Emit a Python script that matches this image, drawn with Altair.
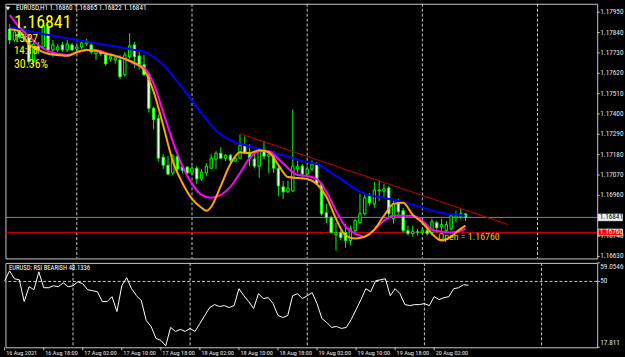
import altair as alt
import pandas as pd

# ---------------- data ----------------
bar_index = list(range(96))  # H1 bars, 16 Aug 10:00 ... 20 Aug 09:00
opens = [1.17859, 1.17800, 1.17864, 1.17810, 1.17816, 1.17682, 1.17768, 1.17762, 1.17870, 1.17746,
         1.17746, 1.17773, 1.17746, 1.17773, 1.17751, 1.17762, 1.17778, 1.17773, 1.17725, 1.17735,
         1.17719, 1.17698, 1.17692, 1.17692, 1.17612, 1.17709, 1.17773, 1.17714, 1.17666, 1.17617,
         1.17430, 1.17376, 1.17166, 1.17123, 1.17081, 1.17172, 1.17113, 1.17113, 1.17081, 1.17107,
         1.17049, 1.17081, 1.17107, 1.17156, 1.17188, 1.17161, 1.17177, 1.17145, 1.17161, 1.17231,
         1.17193, 1.17156, 1.17118, 1.17209, 1.17172, 1.17172, 1.17107, 1.17006, 1.16979, 1.16984,
         1.17102, 1.17118, 1.17075, 1.17102, 1.17129, 1.17022, 1.16866, 1.16839, 1.16748, 1.16759,
         1.16759, 1.16716, 1.16769, 1.16812, 1.16861, 1.16957, 1.16914, 1.16984, 1.16984, 1.17000,
         1.16834, 1.16920, 1.16877, 1.16769, 1.16753, 1.16759, 1.16759, 1.16769, 1.16759, 1.16812,
         1.16791, 1.16769, 1.16780, 1.16839, 1.16845, 1.16860]
highs = [1.17886, 1.17859, 1.17896, 1.17875, 1.17827, 1.17800, 1.17789, 1.17907, 1.17886, 1.17800,
         1.17778, 1.17789, 1.17800, 1.17784, 1.17773, 1.17794, 1.17805, 1.17784, 1.17751, 1.17746,
         1.17735, 1.17725, 1.17719, 1.17719, 1.17735, 1.17837, 1.17789, 1.17735, 1.17719, 1.17628,
         1.17440, 1.17397, 1.17183, 1.17172, 1.17183, 1.17188, 1.17129, 1.17118, 1.17123, 1.17118,
         1.17102, 1.17134, 1.17183, 1.17199, 1.17220, 1.17183, 1.17183, 1.17172, 1.17290, 1.17279,
         1.17236, 1.17199, 1.17215, 1.17252, 1.17199, 1.17199, 1.17118, 1.17038, 1.17038, 1.17424,
         1.17145, 1.17129, 1.17118, 1.17150, 1.17140, 1.17027, 1.16914, 1.16850, 1.16812, 1.16769,
         1.16807, 1.16796, 1.16834, 1.16968, 1.16968, 1.16973, 1.17032, 1.17038, 1.17022, 1.17011,
         1.16930, 1.16941, 1.16893, 1.16796, 1.16796, 1.16780, 1.16786, 1.16791, 1.16834, 1.16823,
         1.16834, 1.16823, 1.16861, 1.16877, 1.16887, 1.16865]
lows = [1.17778, 1.17789, 1.17805, 1.17789, 1.17666, 1.17660, 1.17725, 1.17751, 1.17725, 1.17709,
        1.17735, 1.17735, 1.17735, 1.17741, 1.17741, 1.17751, 1.17768, 1.17725, 1.17692, 1.17714,
        1.17660, 1.17682, 1.17671, 1.17590, 1.17601, 1.17698, 1.17650, 1.17639, 1.17607, 1.17408,
        1.17317, 1.17145, 1.17102, 1.17070, 1.17070, 1.17091, 1.17081, 1.17075, 1.17070, 1.17022,
        1.17038, 1.17065, 1.17102, 1.17102, 1.17156, 1.17145, 1.17129, 1.17140, 1.17156, 1.17183,
        1.17118, 1.17107, 1.17054, 1.17156, 1.17081, 1.17081, 1.16957, 1.16941, 1.16973, 1.16979,
        1.17081, 1.17059, 1.17070, 1.17091, 1.17016, 1.16850, 1.16812, 1.16753, 1.16662, 1.16716,
        1.16678, 1.16689, 1.16759, 1.16807, 1.16850, 1.16904, 1.16893, 1.16930, 1.16947, 1.16834,
        1.16807, 1.16850, 1.16759, 1.16743, 1.16737, 1.16743, 1.16748, 1.16743, 1.16743, 1.16759,
        1.16769, 1.16759, 1.16769, 1.16812, 1.16834, 1.16822]
closes = [1.17800, 1.17843, 1.17816, 1.17853, 1.17682, 1.17778, 1.17746, 1.17880, 1.17746, 1.17773,
          1.17762, 1.17746, 1.17778, 1.17746, 1.17762, 1.17784, 1.17789, 1.17735, 1.17741, 1.17725,
          1.17671, 1.17709, 1.17703, 1.17601, 1.17719, 1.17768, 1.17709, 1.17666, 1.17612, 1.17430,
          1.17370, 1.17161, 1.17123, 1.17075, 1.17172, 1.17102, 1.17096, 1.17081, 1.17107, 1.17049,
          1.17086, 1.17118, 1.17161, 1.17188, 1.17161, 1.17177, 1.17150, 1.17161, 1.17231, 1.17188,
          1.17161, 1.17118, 1.17209, 1.17172, 1.17183, 1.17107, 1.17011, 1.16979, 1.17000, 1.17118,
          1.17118, 1.17075, 1.17102, 1.17129, 1.17022, 1.16861, 1.16839, 1.16759, 1.16759, 1.16732,
          1.16716, 1.16780, 1.16823, 1.16861, 1.16947, 1.16920, 1.16989, 1.16989, 1.16995, 1.16861,
          1.16914, 1.16871, 1.16769, 1.16753, 1.16764, 1.16764, 1.16769, 1.16753, 1.16818, 1.16786,
          1.16802, 1.16802, 1.16850, 1.16850, 1.16861, 1.16841]

rsi_values = [50.32, 55.17, 51.29, 50.81, 40.13, 47.41, 45.95, 54.69, 46.92, 46.92,
              47.89, 47.41, 49.35, 47.41, 47.89, 49.84, 48.86, 45.95, 45.47, 44.98,
              40.13, 40.13, 42.56, 35.28, 47.89, 51.78, 46.44, 43.04, 40.62, 30.91,
              28.00, 22.18, 21.21, 18.50, 27.52, 25.57, 26.55, 25.57, 27.03, 25.57,
              29.46, 33.34, 37.22, 38.67, 37.70, 38.19, 37.22, 38.19, 46.44, 43.04,
              40.13, 36.73, 44.01, 41.59, 42.07, 39.16, 33.34, 32.37, 33.34, 43.04,
              44.01, 41.59, 43.04, 44.50, 39.16, 31.88, 29.94, 27.52, 28.00, 27.03,
              27.52, 31.40, 36.25, 41.10, 46.44, 44.98, 50.32, 50.81, 51.29, 43.04,
              46.44, 44.01, 38.67, 38.19, 38.67, 38.67, 39.16, 38.19, 42.56, 41.10,
              42.07, 42.56, 46.44, 46.92, 48.38, 48.1336]

blue_idx = [0, 7, 14, 20, 25, 29, 32, 35, 38, 40, 43, 46, 49, 53, 57, 61, 65, 67, 69, 72,
            74, 78, 81, 84, 87, 90, 93, 95]
blue_ma = [1.17870, 1.17832, 1.17800, 1.17773, 1.17751, 1.17725, 1.17666, 1.17574, 1.17472, 1.17403,
           1.17311, 1.17258, 1.17231, 1.17204, 1.17177, 1.17145, 1.17118, 1.17081, 1.17049, 1.16995,
           1.16968, 1.16947, 1.16930, 1.16909, 1.16887, 1.16866, 1.16855, 1.16850]

magenta_idx = [0, 2, 4, 6, 8, 10, 12, 14, 16, 18, 20, 22, 24, 26, 28, 30, 32, 34, 36, 38,
               40, 42, 44, 46, 48, 50, 52, 54, 56, 58, 60, 62, 64, 66, 68, 70, 72, 74, 76, 78,
               80, 82, 84, 86, 88, 90, 92, 94, 95]
magenta_ma = [1.17934, 1.17870, 1.17821, 1.17773, 1.17741, 1.17725, 1.17719, 1.17730, 1.17746, 1.17746,
              1.17730, 1.17714, 1.17698, 1.17671, 1.17650, 1.17564, 1.17408, 1.17252, 1.17118, 1.17022,
              1.16963, 1.16947, 1.16963, 1.17006, 1.17081, 1.17161, 1.17199, 1.17199, 1.17156, 1.17108,
              1.17070, 1.17065, 1.17049, 1.16979, 1.16877, 1.16791, 1.16753, 1.16737, 1.16775, 1.16823,
              1.16850, 1.16850, 1.16850, 1.16823, 1.16775, 1.16764, 1.16759, 1.16770, 1.16780]

orange_idx = [0, 2, 4, 6, 8, 10, 12, 14, 16, 18, 20, 22, 24, 26, 28, 30, 32, 34, 36, 38,
              40, 41, 42, 44, 46, 48, 50, 52, 54, 56, 58, 60, 62, 64, 66, 68, 70, 72, 74, 76,
              78, 80, 82, 84, 86, 88, 90, 92, 94, 95]
orange_ma = [1.17858, 1.17848, 1.17778, 1.17746, 1.17725, 1.17719, 1.17714, 1.17735, 1.17746, 1.17741,
             1.17725, 1.17714, 1.17698, 1.17676, 1.17639, 1.17521, 1.17338, 1.17145, 1.17027, 1.16941,
             1.16893, 1.16877, 1.16898, 1.17011, 1.17129, 1.17193, 1.17188, 1.17204, 1.17193, 1.17124,
             1.17059, 1.17054, 1.17049, 1.17022, 1.16952, 1.16834, 1.16743, 1.16727, 1.16737, 1.16775,
             1.16850, 1.16914, 1.16920, 1.16855, 1.16812, 1.16753, 1.16716, 1.16737, 1.16780, 1.16796]

trend_idx = [48.1, 103.9]
trend_price = [1.17293, 1.16802]

separator_idx = [14, 38, 62, 86, 110]          # midnight of 17..21 Aug
time_tick_idx = [0, 8, 16, 24, 32, 40, 48, 56, 64, 72, 80, 88]
time_tick_labels = ["16 Aug 2021", "16 Aug 18:00", "17 Aug 02:00", "17 Aug 10:00",
                    "17 Aug 18:00", "18 Aug 02:00", "18 Aug 10:00", "18 Aug 18:00",
                    "19 Aug 02:00", "19 Aug 10:00", "19 Aug 18:00", "20 Aug 02:00"]
# 1.16850 is hidden behind the bid-price box in the reference
price_ticks = [1.16630, 1.16740, 1.16960, 1.17070, 1.17180, 1.17290,
               1.17400, 1.17510, 1.17620, 1.17730, 1.17840, 1.17950]
price_tick_labels = ["1.16630", "1.16740", "1.16960", "1.17070", "1.17180", "1.17290",
                     "1.17400", "1.17510", "1.17620", "1.17730", "1.17840", "1.17950"]
rsi_max, rsi_level, rsi_min = 59.0546, 50.0, 17.811
rsi_tick_labels = ["59.0546", "50", "17.811"]
bid_price = 1.16841
open_price = 1.16760
header = "EURUSD,H1  1.16860 1.16865 1.16822 1.16841"
rsi_header = "EURUSD: RSI BEARISH 48.1336"
info_lines = ["1.16841", "15:27", "14:18", "30.36%"]
open_label = "Open = 1.16760"

# ---------------- styling ----------------
NARROW = "Liberation Sans Narrow, Roboto Condensed, DejaVu Sans Condensed, Liberation Sans"
LIME = "#00FF00"
FRAME = "#C8C8C8"
LBL = "#E6E6E6"
W = 596
H_MAIN = 256.5
H_RSI = 85

xs = alt.Scale(domain=[0.163, 121.40], nice=False, zero=False)
ys = alt.Scale(domain=[1.166192, 1.179956], nice=False, zero=False)
rs = alt.Scale(domain=[rsi_min, rsi_max], nice=False, zero=False)

X = alt.X("i:Q", scale=xs, axis=None)


def Yp(field):
    return alt.Y(field, scale=ys, axis=None)


def Yr(field):
    return alt.Y(field, scale=rs, axis=None)


candles = pd.DataFrame(dict(i=bar_index, o=opens, h=highs, l=lows, c=closes))
seps = pd.DataFrame(dict(i=separator_idx))

sep_main = alt.Chart(seps).mark_rule(color="#C8C8C8", strokeDash=[3, 2], strokeWidth=1).encode(x=X)

hlines = alt.Chart(pd.DataFrame(dict(p=[bid_price, open_price], col=["#778899", "#E00000"]))).mark_rule(
    strokeWidth=1).encode(y=Yp("p:Q"), color=alt.Color("col:N", scale=None))

wicks = alt.Chart(candles).mark_rule(color=LIME, strokeWidth=1).encode(x=X, y=Yp("l:Q"), y2="h:Q")

bodies = alt.Chart(candles).mark_bar(size=2.4, stroke=LIME, strokeWidth=1).encode(
    x=X, y=Yp("o:Q"), y2="c:Q",
    fill=alt.condition("datum.c < datum.o", alt.value("#FFFFFF"), alt.value("#000000")))


def ma_line(idx, vals, color):
    d = pd.DataFrame(dict(i=idx, p=vals))
    return alt.Chart(d).mark_line(color=color, strokeWidth=2, interpolate="monotone").encode(
        x=X, y=Yp("p:Q"))


blue = ma_line(blue_idx, blue_ma, "#0000FF")
magenta = ma_line(magenta_idx, magenta_ma, "#FF00FF")
orange = ma_line(orange_idx, orange_ma, "#FFA500")

trend = alt.Chart(pd.DataFrame(dict(i=trend_idx, p=trend_price))).mark_line(
    color="#C80000", strokeWidth=1).encode(x=X, y=Yp("p:Q"))

open_txt = alt.Chart(pd.DataFrame(dict(i=[89.3], p=[1.16735], t=[open_label]))).mark_text(
    font=NARROW, fontSize=10, color="#E8D200", align="left", baseline="middle").encode(
    x=X, y=Yp("p:Q"), text="t:N")

head_txt = alt.Chart(pd.DataFrame(dict(t=[header]))).mark_text(
    font=NARROW, fontSize=7.2, color="#FFFFFF", align="left", baseline="middle").encode(
    x=alt.value(10.5), y=alt.value(4.5), text="t:N")

tri_txt = alt.Chart(pd.DataFrame(dict(t=["▼"]))).mark_text(
    font="DejaVu Sans", fontSize=5, color="#FFFFFF", align="left", baseline="middle").encode(
    x=alt.value(0.5), y=alt.value(4.5), text="t:N")

info_df = pd.DataFrame(dict(t=info_lines, yy=[24, 38.5, 51, 64.5], fs=[18, 11, 11, 12]))
info_txt = alt.Chart(info_df).mark_text(font=NARROW, color="#FFFF00", align="left",
                                        baseline="alphabetic").encode(
    x=alt.value(8.5), y=alt.Y("yy:Q", scale=None), text="t:N", size=alt.Size("fs:Q", scale=None))

# right price scale (drawn as marks)
ptick_df = pd.DataFrame(dict(p=price_ticks, t=price_tick_labels))
p_ticks = alt.Chart(ptick_df).mark_rule(color=FRAME, strokeWidth=1).encode(
    y=Yp("p:Q"), x=alt.value(W), x2=alt.value(W + 2.5))
p_labels = alt.Chart(ptick_df).mark_text(font=NARROW, fontSize=7.3, color=LBL, align="left",
                                         baseline="middle").encode(
    y=Yp("p:Q"), x=alt.value(W + 3), text="t:N")

# price label boxes on the right scale
box_df = pd.DataFrame(dict(p=[bid_price, open_price], t=["1.16841", "1.16760"],
                           fillc=["#F0F0F0", "#FF0000"], txtc=["#000000", "#FFFFFF"]))
boxes = alt.Chart(box_df).mark_rect(yOffset=-3.4, y2Offset=3.4, stroke="#FFFFFF", strokeWidth=0.6).encode(
    x=alt.value(W + 1), x2=alt.value(W + 25.5), y=Yp("p:Q"), y2="p:Q",
    fill=alt.Color("fillc:N", scale=None))
box_txt = alt.Chart(box_df).mark_text(font=NARROW, fontSize=7.3, align="left", baseline="middle").encode(
    x=alt.value(W + 2.5), y=Yp("p:Q"), text="t:N", color=alt.Color("txtc:N", scale=None))

main = alt.layer(sep_main, hlines, wicks, bodies, blue, magenta, orange, trend,
                 open_txt, head_txt, tri_txt, info_txt, p_ticks, p_labels, boxes, box_txt
                 ).properties(width=W, height=H_MAIN)

# ---------------- RSI panel ----------------
rsi_df = pd.DataFrame(dict(i=bar_index, v=rsi_values))
sep_rsi = alt.Chart(seps).mark_rule(color="#C8C8C8", strokeDash=[3, 2], strokeWidth=1).encode(x=X)
lvl50 = alt.Chart(pd.DataFrame(dict(v=[rsi_level]))).mark_rule(
    color="#C8C8C8", strokeDash=[3, 2], strokeWidth=1).encode(y=Yr("v:Q"))
rsi_line = alt.Chart(rsi_df).mark_line(color="#FFFFFF", strokeWidth=1).encode(x=X, y=Yr("v:Q"))
rsi_txt = alt.Chart(pd.DataFrame(dict(t=[rsi_header]))).mark_text(
    font=NARROW, fontSize=6.7, color="#FFFFFF", align="left", baseline="middle").encode(
    x=alt.value(3.5), y=alt.value(5.5), text="t:N")

rtick_df = pd.DataFrame(dict(v=[rsi_max, rsi_level, rsi_min], t=rsi_tick_labels))
r_ticks = alt.Chart(rtick_df).mark_rule(color=FRAME, strokeWidth=1).encode(
    y=Yr("v:Q"), x=alt.value(W), x2=alt.value(W + 2.5))


def r_label(k, baseline):
    return alt.Chart(rtick_df.iloc[[k]]).mark_text(font=NARROW, fontSize=7.3, color=LBL, align="left",
                                                    baseline=baseline).encode(
        y=Yr("v:Q"), x=alt.value(W + 3), text="t:N")


ttick_df = pd.DataFrame(dict(i=time_tick_idx, t=time_tick_labels))
t_ticks = alt.Chart(ttick_df).mark_rule(color=FRAME, strokeWidth=1).encode(
    x=X, y=alt.value(H_RSI), y2=alt.value(H_RSI + 3))
t_labels = alt.Chart(ttick_df).mark_text(font=NARROW, fontSize=6.3, color=LBL, align="left",
                                         baseline="top", dx=1.5).encode(
    x=X, y=alt.value(H_RSI + 2.5), text="t:N")

rsi_panel = alt.layer(sep_rsi, lvl50, rsi_line, rsi_txt, r_ticks,
                      r_label(0, "top"), r_label(1, "middle"), r_label(2, "bottom"),
                      t_ticks, t_labels).properties(width=W, height=H_RSI)

chart = alt.vconcat(main, rsi_panel, spacing=1).properties(
    background="#000000",
    padding={"left": 1.5, "top": 1.5, "right": 0, "bottom": 0},
).configure_view(stroke=FRAME, strokeWidth=1, fill="#000000").configure_concat(spacing=1)

chart.save("out.html", embed_options={"renderer": "svg", "actions": False})
